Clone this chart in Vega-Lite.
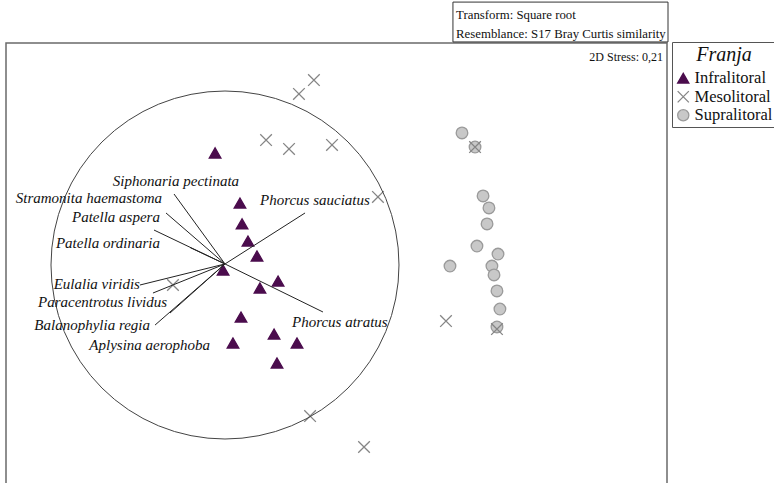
{
  "$schema": "https://vega.github.io/schema/vega-lite/v6.json",
  "width": 661,
  "height": 450,
  "autosize": {"type": "none"},
  "padding": {"left": 6, "top": 43, "right": 107, "bottom": 0},
  "background": "white",
  "config": {
    "view": {"stroke": "#6a6a6a", "strokeWidth": 1.5},
    "font": "Liberation Serif",
    "legend": {"labelFont": "Liberation Serif", "titleFont": "Liberation Serif"}
  },
  "datasets": {
    "samples": [
      {"x": -0.057, "y": 0.644, "Franja": "Infralitoral"},
      {"x": 0.086, "y": 0.356, "Franja": "Infralitoral"},
      {"x": 0.098, "y": 0.236, "Franja": "Infralitoral"},
      {"x": 0.132, "y": 0.138, "Franja": "Infralitoral"},
      {"x": 0.184, "y": 0.052, "Franja": "Infralitoral"},
      {"x": -0.011, "y": -0.029, "Franja": "Infralitoral"},
      {"x": 0.305, "y": -0.092, "Franja": "Infralitoral"},
      {"x": 0.201, "y": -0.132, "Franja": "Infralitoral"},
      {"x": 0.092, "y": -0.299, "Franja": "Infralitoral"},
      {"x": 0.282, "y": -0.397, "Franja": "Infralitoral"},
      {"x": 0.046, "y": -0.448, "Franja": "Infralitoral"},
      {"x": 0.414, "y": -0.448, "Franja": "Infralitoral"},
      {"x": 0.299, "y": -0.563, "Franja": "Infralitoral"},
      {"x": 1.362, "y": 0.759, "Franja": "Supralitoral"},
      {"x": 1.437, "y": 0.678, "Franja": "Supralitoral"},
      {"x": 1.483, "y": 0.397, "Franja": "Supralitoral"},
      {"x": 1.517, "y": 0.328, "Franja": "Supralitoral"},
      {"x": 1.506, "y": 0.236, "Franja": "Supralitoral"},
      {"x": 1.448, "y": 0.109, "Franja": "Supralitoral"},
      {"x": 1.569, "y": 0.063, "Franja": "Supralitoral"},
      {"x": 1.293, "y": -0.006, "Franja": "Supralitoral"},
      {"x": 1.534, "y": -0.006, "Franja": "Supralitoral"},
      {"x": 1.546, "y": -0.057, "Franja": "Supralitoral"},
      {"x": 1.563, "y": -0.149, "Franja": "Supralitoral"},
      {"x": 1.58, "y": -0.253, "Franja": "Supralitoral"},
      {"x": 1.563, "y": -0.356, "Franja": "Supralitoral"},
      {"x": 0.511, "y": 1.063, "Franja": "Mesolitoral"},
      {"x": 0.425, "y": 0.983, "Franja": "Mesolitoral"},
      {"x": 0.236, "y": 0.718, "Franja": "Mesolitoral"},
      {"x": 0.368, "y": 0.667, "Franja": "Mesolitoral"},
      {"x": 0.615, "y": 0.69, "Franja": "Mesolitoral"},
      {"x": 0.879, "y": 0.391, "Franja": "Mesolitoral"},
      {"x": -0.299, "y": -0.115, "Franja": "Mesolitoral"},
      {"x": 1.27, "y": -0.322, "Franja": "Mesolitoral"},
      {"x": 1.563, "y": -0.368, "Franja": "Mesolitoral"},
      {"x": 1.437, "y": 0.678, "Franja": "Mesolitoral"},
      {"x": 0.489, "y": -0.868, "Franja": "Mesolitoral"},
      {"x": 0.799, "y": -1.046, "Franja": "Mesolitoral"}
    ],
    "vectors": [
      {"species": "Siphonaria pectinata", "x0": 0, "y0": 0.006, "x1": -0.293, "y1": 0.408},
      {"species": "Stramonita haemastoma", "x0": 0, "y0": 0.006, "x1": -0.339, "y1": 0.299},
      {"species": "Patella aspera", "x0": 0, "y0": 0.006, "x1": -0.408, "y1": 0.201},
      {"species": "Patella ordinaria", "x0": 0, "y0": 0.006, "x1": -0.2, "y1": 0.1},
      {"species": "Phorcus sauciatus", "x0": 0, "y0": 0.006, "x1": 0.46, "y1": 0.299},
      {"species": "Phorcus atratus", "x0": 0, "y0": 0.006, "x1": 0.563, "y1": -0.27},
      {"species": "Eulalia viridis", "x0": 0, "y0": 0.006, "x1": -0.489, "y1": -0.115},
      {"species": "Paracentrotus lividus", "x0": 0, "y0": 0.006, "x1": -0.414, "y1": -0.161},
      {"species": "Balanophylia regia", "x0": 0, "y0": 0.006, "x1": -0.402, "y1": -0.345},
      {"species": "Aplysina aerophoba", "x0": 0, "y0": 0.006, "x1": -0.316, "y1": -0.276}
    ],
    "labels": [
      {"species": "Siphonaria pectinata", "x": -0.282, "y": 0.483, "align": "center"},
      {"species": "Stramonita haemastoma", "x": -0.362, "y": 0.385, "align": "right"},
      {"species": "Patella aspera", "x": -0.374, "y": 0.276, "align": "right"},
      {"species": "Patella ordinaria", "x": -0.374, "y": 0.126, "align": "right"},
      {"species": "Phorcus sauciatus", "x": 0.201, "y": 0.374, "align": "left"},
      {"species": "Eulalia viridis", "x": -0.489, "y": -0.109, "align": "right"},
      {"species": "Paracentrotus lividus", "x": -0.333, "y": -0.213, "align": "right"},
      {"species": "Balanophylia regia", "x": -0.431, "y": -0.345, "align": "right"},
      {"species": "Aplysina aerophoba", "x": -0.086, "y": -0.46, "align": "right"},
      {"species": "Phorcus atratus", "x": 0.385, "y": -0.328, "align": "left"}
    ],
    "notes": [
      {"text": "Transform:  Square root", "x": 1.328, "y": 1.437},
      {"text": "Resemblance:  S17 Bray Curtis similarity", "x": 1.328, "y": 1.328}
    ]
  },
  "layer": [
    {
      "data": {"name": "samples"},
      "mark": {"type": "point", "filled": true, "opacity": 1, "strokeWidth": 1.3, "size": 135},
      "encoding": {
        "x": {"field": "x", "type": "quantitative", "scale": {"domain": [-1.2586, 2.5402], "nice": false, "zero": false}, "axis": null},
        "y": {"field": "y", "type": "quantitative", "scale": {"domain": [-1.3103, 1.2759], "nice": false, "zero": false}, "axis": null},
        "shape": {
          "field": "Franja", "type": "nominal", "title": "Franja",
          "scale": {"domain": ["Infralitoral", "Mesolitoral", "Supralitoral"], "range": ["triangle-up", "M-1,-1L1,1M-1,1L1,-1", "circle"]},
          "legend": {
            "orient": "none", "legendX": 666, "legendY": -1,
            "titleFont": "Liberation Serif", "titleFontStyle": "italic", "titleFontWeight": "normal", "titleFontSize": 20, "titleColor": "#111", "titleAnchor": "middle", "titlePadding": 5,
            "labelFont": "Liberation Serif", "labelFontSize": 16.5, "labelColor": "#111", "labelOffset": 3,
            "symbolSize": 125, "symbolStrokeWidth": 1.3, "rowPadding": 1.5,
            "strokeColor": "#555", "padding": 3
          }
        },
        "fill": {
          "field": "Franja", "type": "nominal", "title": "Franja",
          "scale": {"domain": ["Infralitoral", "Mesolitoral", "Supralitoral"], "range": ["#4b0c4d", "#888888", "#c8c8c8"]},
          "legend": {
            "orient": "none", "legendX": 666, "legendY": -1,
            "titleFont": "Liberation Serif", "titleFontStyle": "italic", "titleFontWeight": "normal", "titleFontSize": 20, "titleColor": "#111", "titleAnchor": "middle", "titlePadding": 5,
            "labelFont": "Liberation Serif", "labelFontSize": 16.5, "labelColor": "#111", "labelOffset": 3,
            "symbolSize": 125, "symbolStrokeWidth": 1.3, "rowPadding": 1.5,
            "strokeColor": "#555", "padding": 3
          }
        },
        "stroke": {
          "field": "Franja", "type": "nominal", "title": "Franja",
          "scale": {"domain": ["Infralitoral", "Mesolitoral", "Supralitoral"], "range": ["#4b0c4d", "#858585", "#9a9a9a"]},
          "legend": {
            "orient": "none", "legendX": 666, "legendY": -1,
            "titleFont": "Liberation Serif", "titleFontStyle": "italic", "titleFontWeight": "normal", "titleFontSize": 20, "titleColor": "#111", "titleAnchor": "middle", "titlePadding": 5,
            "labelFont": "Liberation Serif", "labelFontSize": 16.5, "labelColor": "#111", "labelOffset": 3,
            "symbolSize": 125, "symbolStrokeWidth": 1.3, "rowPadding": 1.5,
            "strokeColor": "#555", "padding": 3
          }
        }
      }
    },
    {
      "data": {"values": [{"x": 1.31, "x2": 2.546, "y": 1.511, "y2": 1.282}]},
      "mark": {"type": "rect", "filled": false, "stroke": "#333", "strokeWidth": 1},
      "encoding": {
        "x": {"field": "x", "type": "quantitative", "axis": null},
        "x2": {"field": "x2"},
        "y": {"field": "y", "type": "quantitative", "axis": null},
        "y2": {"field": "y2"}
      }
    },
    {
      "data": {"name": "notes"},
      "mark": {"type": "text", "align": "left", "baseline": "middle", "font": "Liberation Serif", "fontSize": 12.8, "color": "#111"},
      "encoding": {
        "x": {"field": "x", "type": "quantitative", "axis": null},
        "y": {"field": "y", "type": "quantitative", "axis": null},
        "text": {"field": "text"}
      }
    },
    {
      "data": {"values": [{"text": "2D Stress: 0,21", "x": 2.517, "y": 1.195}]},
      "mark": {"type": "text", "align": "right", "baseline": "middle", "font": "Liberation Serif", "fontSize": 12, "color": "#111"},
      "encoding": {
        "x": {"field": "x", "type": "quantitative", "axis": null},
        "y": {"field": "y", "type": "quantitative", "axis": null},
        "text": {"field": "text"}
      }
    },
    {
      "data": {"values": [{"x": 0, "y": 0}]},
      "mark": {"type": "point", "shape": "circle", "filled": false, "size": 121104, "stroke": "#444", "strokeWidth": 1, "opacity": 1},
      "encoding": {
        "x": {"field": "x", "type": "quantitative", "axis": null},
        "y": {"field": "y", "type": "quantitative", "axis": null}
      }
    },
    {
      "data": {"name": "vectors"},
      "mark": {"type": "rule", "stroke": "#222", "strokeWidth": 1},
      "encoding": {
        "x": {"field": "x0", "type": "quantitative", "axis": null},
        "y": {"field": "y0", "type": "quantitative", "axis": null},
        "x2": {"field": "x1"},
        "y2": {"field": "y1"}
      }
    },
    {
      "data": {"name": "labels"},
      "transform": [{"filter": "datum.align === 'right'"}],
      "mark": {"type": "text", "align": "right", "baseline": "middle", "font": "Liberation Serif", "fontStyle": "italic", "fontSize": 15, "color": "#111"},
      "encoding": {
        "x": {"field": "x", "type": "quantitative", "axis": null},
        "y": {"field": "y", "type": "quantitative", "axis": null},
        "text": {"field": "species"}
      }
    },
    {
      "data": {"name": "labels"},
      "transform": [{"filter": "datum.align === 'left'"}],
      "mark": {"type": "text", "align": "left", "baseline": "middle", "font": "Liberation Serif", "fontStyle": "italic", "fontSize": 15, "color": "#111"},
      "encoding": {
        "x": {"field": "x", "type": "quantitative", "axis": null},
        "y": {"field": "y", "type": "quantitative", "axis": null},
        "text": {"field": "species"}
      }
    },
    {
      "data": {"name": "labels"},
      "transform": [{"filter": "datum.align === 'center'"}],
      "mark": {"type": "text", "align": "center", "baseline": "middle", "font": "Liberation Serif", "fontStyle": "italic", "fontSize": 15, "color": "#111"},
      "encoding": {
        "x": {"field": "x", "type": "quantitative", "axis": null},
        "y": {"field": "y", "type": "quantitative", "axis": null},
        "text": {"field": "species"}
      }
    }
  ]
}
